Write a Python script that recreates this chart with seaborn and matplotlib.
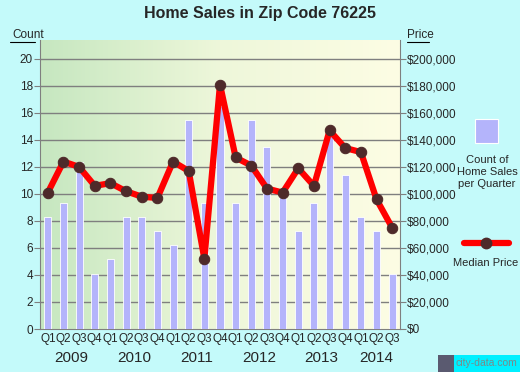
import numpy as np
import pandas as pd
import matplotlib
matplotlib.use("Agg")
import matplotlib.pyplot as plt
import seaborn as sns
from matplotlib.colors import LinearSegmentedColormap

quarters = ["Q1", "Q2", "Q3", "Q4"] * 5 + ["Q1", "Q2", "Q3"]
years = ["2009", "2010", "2011", "2012", "2013", "2014"]
counts = [8.3, 9.3, 12.4, 4.1, 5.2, 8.3, 8.3, 7.25, 6.2, 15.5, 9.3, 16.5,
          9.3, 15.5, 13.45, 10.3, 7.25, 9.3, 14.5, 11.4, 8.3, 7.25, 4.1]
prices = [101000, 124000, 120000, 106000, 108000, 102000, 98000, 97000,
          124000, 117000, 52000, 181000, 127000, 121000, 104000, 101000,
          119000, 106000, 147000, 134000, 131000, 96000, 75000]
count_ticks = [0, 2, 4, 6, 8, 10, 12, 14, 16, 18, 20]
price_ticks = [0, 20000, 40000, 60000, 80000, 100000, 120000, 140000,
               160000, 180000, 200000]

sns.set_style("white")
plt.rcParams["font.family"] = ["Liberation Sans", "DejaVu Sans"]

df = pd.DataFrame({"idx": np.arange(len(counts)), "q": quarters,
                   "count": counts, "price": prices})

fig = plt.figure(figsize=(5.2, 3.72), dpi=100)
fig.patch.set_facecolor("#c4fafa")
ax = fig.add_axes([40 / 520, 43 / 372, 360 / 520, 289 / 372])
n = len(counts)
ymax = 21.4

# gradient background
cmap = LinearSegmentedColormap.from_list("bg", ["#c6e7c0", "#eef7da", "#fdfde4"])
grad = np.linspace(0, 1, 256).reshape(1, -1)
ax.imshow(grad, aspect="auto", cmap=cmap, extent=(-0.5, n - 0.5, 0, ymax),
          zorder=0)

sns.barplot(data=df, x="idx", y="count", ax=ax, color="#b4b4fb",
            saturation=1, width=0.45, edgecolor="white", linewidth=0.6,
            zorder=3)
ax.set_xlim(-0.5, n - 0.5)
ax.set_ylim(0, ymax)
ax.set_yticks(count_ticks)
ax.set_yticklabels([str(t) for t in count_ticks])
for t in count_ticks[1:]:
    ax.axhline(t, color="#7f7f7f", lw=1.0, zorder=1)
ax.set_xlabel("")
ax.set_ylabel("")
for s in ["top", "right"]:
    ax.spines[s].set_visible(False)
ax.spines["left"].set_color("#7f7f7f")
ax.spines["bottom"].set_color("#7f7f7f")
ax.tick_params(axis="y", length=4, color="#7f7f7f", labelsize=8.5, pad=1)

# x ticks: boundaries as major, labels as minor
ax.set_xticks(np.arange(-0.5, n, 1.0))
ax.set_xticklabels([])
ax.tick_params(axis="x", which="major", length=4, color="#7f7f7f")
ax.set_xticks(df["idx"], minor=True)
ax.set_xticklabels(quarters, minor=True)
ax.tick_params(axis="x", which="minor", length=0, labelsize=8.5, pad=3)

# year labels
starts = [i for i, q in enumerate(quarters) if q == "Q1"]
for k, y in enumerate(years):
    s = starts[k]
    e = starts[k + 1] - 1 if k + 1 < len(starts) else n - 1
    ax.text((s + e) / 2, -0.075, y, transform=ax.get_xaxis_transform(),
            ha="center", va="top", fontsize=11)

ax2 = ax.twinx()
sns.lineplot(data=df, x="idx", y="price", ax=ax2, color="#ff0000", lw=4.5,
             marker="o", markersize=7.5, markerfacecolor="#4e2a2a",
             markeredgecolor="#4e2a2a", zorder=5)
ax2.set_ylim(0, ymax * 10000)
ax2.set_xlim(-0.5, n - 0.5)
ax2.set_yticks(price_ticks)
ax2.set_yticklabels(["${:,}".format(p) for p in price_ticks])
ax2.set_ylabel("")
ax2.set_xlabel("")
for s in ["top", "left", "bottom"]:
    ax2.spines[s].set_visible(False)
ax2.spines["right"].set_color("#7f7f7f")
ax2.tick_params(axis="y", length=4, color="#7f7f7f", labelsize=8.5, pad=1)

fig.text(0.5, 0.965, "Home Sales in Zip Code 76225", ha="center", va="center",
         fontsize=11.5, fontweight="bold")
fig.text(12 / 520, 0.905, "Count", ha="left", va="center", fontsize=8.5)
fig.text(407 / 520, 0.905, "Price", ha="left", va="center", fontsize=8.5)
fig.lines.append(plt.Line2D([10 / 520, 35 / 520], [0.888, 0.888],
                            transform=fig.transFigure, color="black", lw=0.8))
fig.lines.append(plt.Line2D([407 / 520, 429 / 520], [0.888, 0.888],
                            transform=fig.transFigure, color="black", lw=0.8))

# legend
fig.patches.append(plt.Rectangle((475 / 520, 1 - 143 / 372), 23 / 520, 24 / 372,
                                 transform=fig.transFigure, facecolor="#b4b4fb",
                                 edgecolor="white", lw=0.8))
fig.text(487 / 520, 1 - 172 / 372, "Count of\nHome Sales\nper Quarter",
         ha="center", va="center", fontsize=8, linespacing=1.3)
fig.lines.append(plt.Line2D([464 / 520, 509 / 520], [1 - 243 / 372, 1 - 243 / 372],
                            transform=fig.transFigure, color="#ff0000", lw=4.5))
fig.lines.append(plt.Line2D([486 / 520], [1 - 243 / 372], marker="o",
                            markersize=7.5, color="#4e2a2a",
                            transform=fig.transFigure))
fig.text(486 / 520, 1 - 263 / 372, "Median Price", ha="center", va="center",
         fontsize=8)

# city-data logo
fig.patches.append(plt.Rectangle((438 / 520, 0), 16 / 520, 17 / 372,
                                 transform=fig.transFigure, facecolor="#5a5a70",
                                 edgecolor="none"))
fig.patches.append(plt.Rectangle((454 / 520, 0), 66 / 520, 17 / 372,
                                 transform=fig.transFigure, facecolor="#00f0ff",
                                 edgecolor="none"))
fig.text(456 / 520, 8.5 / 372, "city-data.com", ha="left", va="center",
         fontsize=7.5, color="#7a8a8a")

fig.savefig("out.png", dpi=100, facecolor=fig.get_facecolor())
